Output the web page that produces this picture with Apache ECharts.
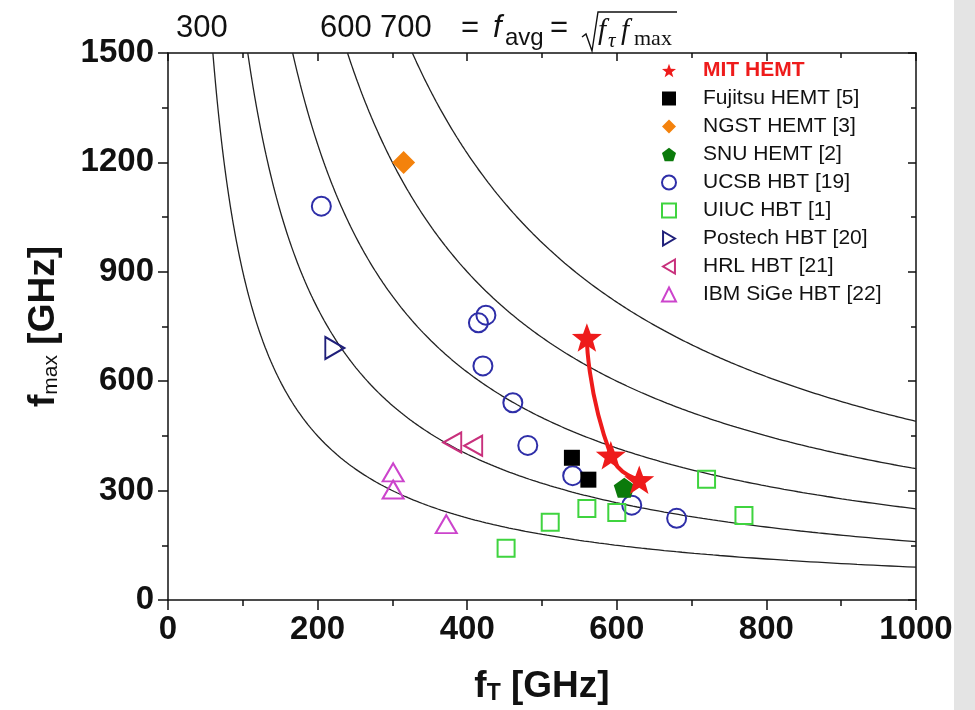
<!DOCTYPE html>
<html>
<head>
<meta charset="utf-8">
<title>fT vs fmax</title>
<script src="https://cdn.jsdelivr.net/npm/echarts@6/dist/echarts.min.js"></script>
<style>
  html, body { margin: 0; padding: 0; background: #ffffff; }
  #chart { width: 975px; height: 710px; }
</style>
</head>
<body>
<div id="chart"></div>
<script>
// Device data: [fT (GHz), fmax (GHz)]
const mitHemt     = [[560, 720], [592, 397], [630, 330]];
const fujitsuHemt = [[540, 390], [562, 330]];
const ngstHemt    = [[315, 1200]];
const snuHemt     = [[610, 308]];
const ucsbHbt     = [[205, 1080], [425, 781], [415, 760], [421, 642], [461, 541],
                     [481, 424], [541, 341], [620, 260], [680, 224]];
const uiucHbt     = [[452, 142], [511, 213], [560, 251], [600, 240], [720, 331], [770, 232]];
const postechHbt  = [[223, 691]];
const hrlHbt      = [[380, 432], [408, 423]];
const ibmSigeHbt  = [[301, 350], [301, 303], [372, 208]];

// Constant f_avg = sqrt(fT * fmax) contours (GHz)
const favgLevels = [300, 400, 500, 600, 700];

// Axis ranges and ticks
const xRange = [0, 1000], xStep = 200;
const yRange = [0, 1500], yStep = 300;

const SANS = '"Liberation Sans", Arial, Helvetica, sans-serif';
const SERIF = '"Liberation Serif", "Times New Roman", serif';
const INK = '#111111';

// Symbol outlines
function polygonPath(n, rOuter, rInner) {
  const pts = [];
  const count = rInner ? n * 2 : n;
  for (let i = 0; i < count; i++) {
    const a = -Math.PI / 2 + i * (2 * Math.PI / count);
    const r = rInner ? (i % 2 === 0 ? rOuter : rInner) : rOuter;
    pts.push((r * Math.cos(a)).toFixed(3) + ' ' + (r * Math.sin(a)).toFixed(3));
  }
  return 'path://M' + pts.join(' L') + ' Z';
}
const STAR = polygonPath(5, 10, 4.1);
const PENTAGON = polygonPath(5, 10);
const TRI_RIGHT = 'path://M0 0 L17 10 L0 20 Z';
const TRI_LEFT = 'path://M17 0 L0 10 L17 20 Z';

// Contour lines of constant f_avg, from the top edge of the plot to the right edge
function contour(favg) {
  const fT0 = favg * favg / yRange[1];
  const n = 240;
  const pts = [];
  for (let k = 0; k <= n; k++) {
    const fT = fT0 * Math.pow(xRange[1] / fT0, k / n);
    pts.push([fT, favg * favg / fT]);
  }
  return pts;
}

const contourSeries = favgLevels.map(f => ({
  type: 'line',
  name: 'favg' + f,
  data: contour(f),
  showSymbol: false,
  symbol: 'none',
  silent: true,
  z: 1,
  lineStyle: { color: '#222', width: 1.3 }
}));

function hollow(name, data, symbol, size, color, extra) {
  return Object.assign({
    type: 'scatter', name, data, symbol, symbolSize: size, z: 3,
    itemStyle: { color: 'rgba(255,255,255,0)', borderColor: color, borderWidth: 2, opacity: 1 }
  }, extra || {});
}
function filled(name, data, symbol, size, color, extra) {
  return Object.assign({
    type: 'scatter', name, data, symbol, symbolSize: size, z: 4,
    itemStyle: { color, opacity: 1 }
  }, extra || {});
}

const RED = '#ee1b1b';

const series = [
  ...contourSeries,
  {
    type: 'line', name: 'mitTrend', data: mitHemt, smooth: 0.6,
    showSymbol: false, symbol: 'none', z: 5, silent: true,
    lineStyle: { color: RED, width: 4 }
  },
  hollow('UCSB HBT [19]', ucsbHbt, 'circle', 19, '#2e2ea8'),
  hollow('UIUC HBT [1]', uiucHbt, 'rect', 17, '#3fd43f'),
  hollow('Postech HBT [20]', postechHbt, TRI_RIGHT, [19, 22], '#1f1f7a'),
  hollow('HRL HBT [21]', hrlHbt, TRI_LEFT, [18, 20], '#c8307c'),
  hollow('IBM SiGe HBT [22]', ibmSigeHbt, 'triangle', [21, 18], '#cc44cc'),
  filled('Fujitsu HEMT [5]', fujitsuHemt, 'rect', 16, '#000000'),
  filled('NGST HEMT [3]', ngstHemt, 'diamond', 23, '#f4820c'),
  filled('SNU HEMT [2]', snuHemt, PENTAGON, 21, '#0b7a0b', { symbolKeepAspect: true }),
  filled('MIT HEMT', mitHemt, STAR, 30, RED, { symbolKeepAspect: true, z: 6 })
];

const legendNames = ['MIT HEMT', 'Fujitsu HEMT [5]', 'NGST HEMT [3]', 'SNU HEMT [2]',
  'UCSB HBT [19]', 'UIUC HBT [1]', 'Postech HBT [20]', 'HRL HBT [21]', 'IBM SiGe HBT [22]'];

const tickLabel = {
  fontFamily: SANS, fontSize: 33, fontWeight: 'bold', color: INK,
  formatter: v => String(v)
};
const axisLine = { show: true, onZero: false, lineStyle: { color: INK, width: 1.5 } };

function titleRich(subSize, subWeight) {
  return {
    f: { fontFamily: SANS, fontSize: 37, fontWeight: 'bold', color: INK, lineHeight: 42, verticalAlign: 'bottom' },
    s: { fontFamily: SANS, fontSize: subSize, fontWeight: subWeight, color: INK, lineHeight: 17, verticalAlign: 'bottom' },
    g: { fontFamily: SANS, fontSize: 37, fontWeight: 'bold', color: INK, lineHeight: 42, verticalAlign: 'bottom' }
  };
}

const option = {
  animation: false,
  backgroundColor: '#ffffff',
  grid: { left: 168, right: 59, top: 53, bottom: 107 },
  xAxis: [
    {
      type: 'value', min: xRange[0], max: xRange[1], interval: xStep, position: 'bottom',
      axisLine, splitLine: { show: false },
      axisTick: { show: true, inside: false, length: 10, lineStyle: { color: INK, width: 1.5 } },
      minorTick: { show: true, splitNumber: 2, length: 6, lineStyle: { color: INK, width: 1.5 } },
      axisLabel: Object.assign({ margin: 13 }, tickLabel),
      name: '{f|f}{s|T}{g| [GHz]}',
      nameLocation: 'middle', nameGap: 63,
      nameTextStyle: { rich: titleRich(23, 'bold') }
    },
    {
      type: 'value', min: xRange[0], max: xRange[1], interval: xStep, position: 'top',
      axisLine, splitLine: { show: false }, axisLabel: { show: false },
      axisTick: { show: true, inside: true, length: 8, lineStyle: { color: INK, width: 1.5 } },
      minorTick: { show: true, splitNumber: 2, length: 5, lineStyle: { color: INK, width: 1.5 } }
    }
  ],
  yAxis: [
    {
      type: 'value', min: yRange[0], max: yRange[1], interval: yStep, position: 'left',
      axisLine, splitLine: { show: false },
      axisTick: { show: true, inside: false, length: 10, lineStyle: { color: INK, width: 1.5 } },
      minorTick: { show: true, splitNumber: 2, length: 6, lineStyle: { color: INK, width: 1.5 } },
      axisLabel: Object.assign({ margin: 14 }, tickLabel),
      name: '{f|f}{s|max}{g| [GHz]}',
      nameLocation: 'middle', nameGap: 106,
      nameTextStyle: { rich: titleRich(21, 'normal') }
    },
    {
      type: 'value', min: yRange[0], max: yRange[1], interval: yStep, position: 'right',
      axisLine, splitLine: { show: false }, axisLabel: { show: false },
      axisTick: { show: true, inside: true, length: 8, lineStyle: { color: INK, width: 1.5 } },
      minorTick: { show: true, splitNumber: 2, length: 5, lineStyle: { color: INK, width: 1.5 } }
    }
  ],
  legend: {
    orient: 'vertical', left: 661, top: 60, padding: 0,
    itemWidth: 14, itemHeight: 14, itemGap: 7,
    selectedMode: false,
    textStyle: { fontFamily: SANS, fontSize: 21, color: INK, lineHeight: 21, padding: [0, 0, 0, 22] },
    data: legendNames.map((n, i) => {
      if (i === 0) return { name: n, textStyle: { color: RED, fontWeight: 'bold' } };
      if (n === 'Postech HBT [20]') return { name: n, icon: TRI_RIGHT };
      if (n === 'HRL HBT [21]') return { name: n, icon: TRI_LEFT };
      return { name: n };
    })
  },
  graphic: [
    { type: 'rect', shape: { x: 954, y: 0, width: 21, height: 710 }, style: { fill: '#e4e4e4' }, silent: true },
    { type: 'text', x: 176, y: 28, style: { text: '300', font: '31px ' + SANS, fill: INK, verticalAlign: 'middle' } },
    { type: 'text', x: 320, y: 28, style: { text: '600', font: '31px ' + SANS, fill: INK, verticalAlign: 'middle' } },
    { type: 'text', x: 380, y: 28, style: { text: '700', font: '31px ' + SANS, fill: INK, verticalAlign: 'middle' } },
    { type: 'text', x: 461, y: 28, style: { text: '=', font: '31px ' + SANS, fill: INK, verticalAlign: 'middle' } },
    { type: 'text', x: 493, y: 28, style: { text: 'f', font: 'italic 31px ' + SANS, fill: INK, verticalAlign: 'middle' } },
    { type: 'text', x: 505, y: 38, style: { text: 'avg', font: '24px ' + SANS, fill: INK, verticalAlign: 'middle' } },
    { type: 'text', x: 550, y: 28, style: { text: '=', font: '31px ' + SANS, fill: INK, verticalAlign: 'middle' } },
    { type: 'polyline', shape: { points: [[582, 37], [586, 34], [592, 51], [598, 12], [677, 12]] },
      style: { stroke: INK, lineWidth: 1.4, fill: null } },
    { type: 'text', x: 598, y: 31, style: { text: 'f', font: 'italic 29px ' + SERIF, fill: INK, verticalAlign: 'middle' } },
    { type: 'text', x: 608, y: 41, style: { text: 'τ', font: 'italic 21px ' + SERIF, fill: INK, verticalAlign: 'middle' } },
    { type: 'text', x: 621, y: 31, style: { text: 'f', font: 'italic 29px ' + SERIF, fill: INK, verticalAlign: 'middle' } },
    { type: 'text', x: 634, y: 39, style: { text: 'max', font: '22px ' + SERIF, fill: INK, verticalAlign: 'middle' } }
  ],
  series
};

const chart = echarts.init(document.getElementById('chart'), null, { renderer: 'canvas' });
chart.setOption(option);
</script>
</body>
</html>
